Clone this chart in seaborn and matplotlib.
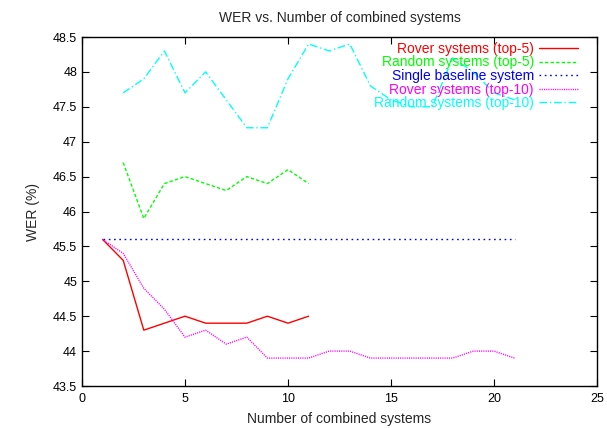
import matplotlib
matplotlib.use("Agg")
import matplotlib.pyplot as plt
import seaborn as sns
import pandas as pd

# ---- data ----
x_rover5 = list(range(1, 12))
rover_top5 = [45.6, 45.3, 44.3, 44.4, 44.5, 44.4, 44.4, 44.4, 44.5, 44.4, 44.5]

x_random5 = list(range(2, 12))
random_top5 = [46.7, 45.9, 46.4, 46.5, 46.4, 46.3, 46.5, 46.4, 46.6, 46.4]

x_baseline = [1, 21]
baseline = [45.6, 45.6]

x_rover10 = list(range(1, 22))
rover_top10 = [45.6, 45.4, 44.9, 44.6, 44.2, 44.3, 44.1, 44.2, 43.9, 43.9, 43.9,
               44.0, 44.0, 43.9, 43.9, 43.9, 43.9, 43.9, 44.0, 44.0, 43.9]

x_random10 = list(range(2, 22))
random_top10 = [47.7, 47.9, 48.3, 47.7, 48.0, 47.6, 47.2, 47.2, 47.9, 48.4,
                48.3, 48.4, 47.8, 47.6, 47.5, 47.5, 48.2, 48.0, 47.7, 47.6]

labels = ["Rover systems (top-5)", "Random systems (top-5)", "Single baseline system",
          "Rover systems (top-10)", "Random systems (top-10)"]
colors = ["#ff0000", "#00ff00", "#0000ff", "#ff00ff", "#00ffff"]
dashes = [None, (2.4, 1.6), (1.2, 2.6), (0.8, 0.8), (5.5, 2.0, 1.0, 2.0)]

title = "WER vs. Number of combined systems"
xlabel = "Number of combined systems"
ylabel = "WER (%)"
xticks = [0, 5, 10, 15, 20, 25]
yticks = [43.5, 44, 44.5, 45, 45.5, 46, 46.5, 47, 47.5, 48, 48.5]

sns.set_style("ticks")
plt.rcParams["font.family"] = ["Liberation Sans", "DejaVu Sans"]

fig = plt.figure(figsize=(6.07, 4.28), dpi=100)
ax = fig.add_axes([82 / 607, 1 - 386 / 428, (597 - 82) / 607, (386 - 37) / 428])

series = [(x_rover5, rover_top5), (x_random5, random_top5), (x_baseline, baseline),
          (x_rover10, rover_top10), (x_random10, random_top10)]
for (xs, ys), lab, c, d in zip(series, labels, colors, dashes):
    df = pd.DataFrame({"x": xs, "y": ys})
    sns.lineplot(data=df, x="x", y="y", ax=ax, color=c, label=lab, linewidth=1.0)
    ln = ax.get_lines()[-1]
    if d is not None:
        ln.set_dashes(d)

ax.set_xlim(0, 25)
ax.set_ylim(43.5, 48.5)
ax.set_xticks(xticks)
ax.set_xticklabels([str(t) for t in xticks])
ax.set_yticks(yticks)
ax.set_yticklabels([f"{t:g}" for t in yticks])
ax.tick_params(direction="in", length=5, width=0.8, labelsize=9, top=True, right=True,
               color="black", labelcolor="black")
ax.tick_params(axis="x", pad=5)
for s in ax.spines.values():
    s.set_linewidth(1.0)
    s.set_color("black")

ax.set_title(title, fontsize=10, pad=11)
ax.set_xlabel(xlabel, fontsize=10, labelpad=5)
ax.set_ylabel(ylabel, fontsize=10, labelpad=9)

leg = ax.legend(loc="upper right", frameon=False, markerfirst=False, fontsize=10,
                handlelength=2.8, handletextpad=0.4, labelspacing=-0.03,
                borderaxespad=0.2, bbox_to_anchor=(0.98, 1.01))
leg._legend_box.align = "right"
for txt, c in zip(leg.get_texts(), colors):
    txt.set_color(c)
    txt.set_horizontalalignment("right")

fig.savefig("out.png", dpi=100)
